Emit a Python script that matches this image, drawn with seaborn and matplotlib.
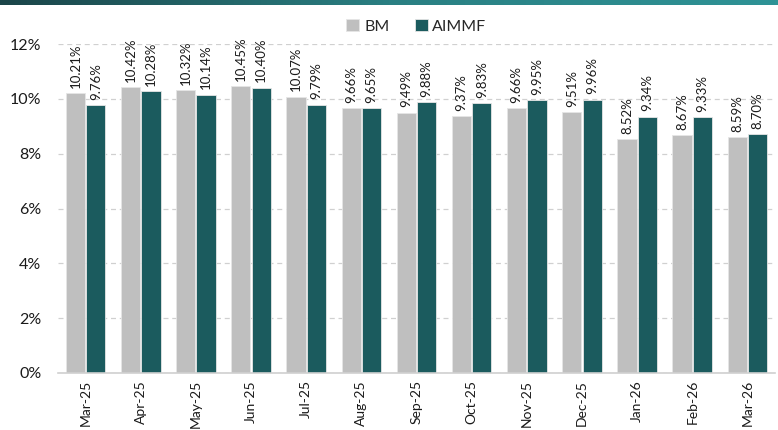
import pandas as pd
import numpy as np
import seaborn as sns
import matplotlib.pyplot as plt
from matplotlib.colors import LinearSegmentedColormap
from matplotlib.ticker import FuncFormatter

months = ['Mar-25', 'Apr-25', 'May-25', 'Jun-25', 'Jul-25', 'Aug-25', 'Sep-25',
          'Oct-25', 'Nov-25', 'Dec-25', 'Jan-26', 'Feb-26', 'Mar-26']
bm = [10.21, 10.42, 10.32, 10.45, 10.07, 9.66, 9.49, 9.37, 9.66, 9.51, 8.52, 8.67, 8.59]
aimmf = [9.76, 10.28, 10.14, 10.40, 9.79, 9.65, 9.88, 9.83, 9.95, 9.96, 9.34, 9.33, 8.70]
series_names = ['BM', 'AIMMF']
colors = ['#bfbfbf', '#1b5b5e']

df = pd.DataFrame({
    'month': months * 2,
    'value': bm + aimmf,
    'series': ['BM'] * len(months) + ['AIMMF'] * len(months),
})

sns.set_theme(style='white')
plt.rcParams['font.family'] = ['Lato', 'DejaVu Sans']

fig = plt.figure(figsize=(7.78, 4.30), dpi=100)
ax = fig.add_axes([58 / 778, 1 - 373 / 430, 717 / 778, 329 / 430])

sns.barplot(data=df, x='month', y='value', hue='series', hue_order=series_names,
            palette=colors, saturation=1, width=0.74, gap=0.06, ax=ax,
            edgecolor='#e6e6e6', linewidth=0.6, legend=True)

for cont in ax.containers:
    ax.bar_label(cont, labels=[f'{v:.2f}%' for v in cont.datavalues], rotation=90,
                 padding=4, fontsize=9.5, color='#1a1a1a', clip_on=False)

ax.set_ylim(0, 12)
ax.set_xlim(-0.5, len(months) - 0.5)
ax.set_yticks(np.arange(0, 13, 2))
ax.yaxis.set_major_formatter(FuncFormatter(lambda v, p: f'{v:.0f}%'))
ax.grid(axis='y', color='#d0d0d0', linestyle=(0, (4, 3)), linewidth=0.9)
ax.set_axisbelow(True)
for s in ['top', 'right', 'left']:
    ax.spines[s].set_visible(False)
ax.spines['bottom'].set_color('#d0d0d0')
ax.spines['bottom'].set_linewidth(1.2)
ax.tick_params(axis='x', rotation=90, labelsize=10, colors='#1a1a1a', length=0, pad=5)
ax.tick_params(axis='y', labelsize=11.5, colors='#1a1a1a', length=0, pad=12)
ax.set_xlabel('')
ax.set_ylabel('')

leg = ax.legend(loc='upper center', bbox_to_anchor=(0.5, 1.12), ncol=2, frameon=False,
                fontsize=11.5, handlelength=0.8, handleheight=0.8, handletextpad=0.3,
                columnspacing=1.6)

# gradient strip across the top
strip = fig.add_axes([0, 1 - 5 / 430, 1, 5 / 430])
cmap = LinearSegmentedColormap.from_list('strip', ['#1b4549', '#2a7f82', '#2f9396'])
strip.imshow(np.linspace(0, 1, 256).reshape(1, -1), aspect='auto', cmap=cmap)
strip.axis('off')

fig.savefig('out.png', dpi=100)
